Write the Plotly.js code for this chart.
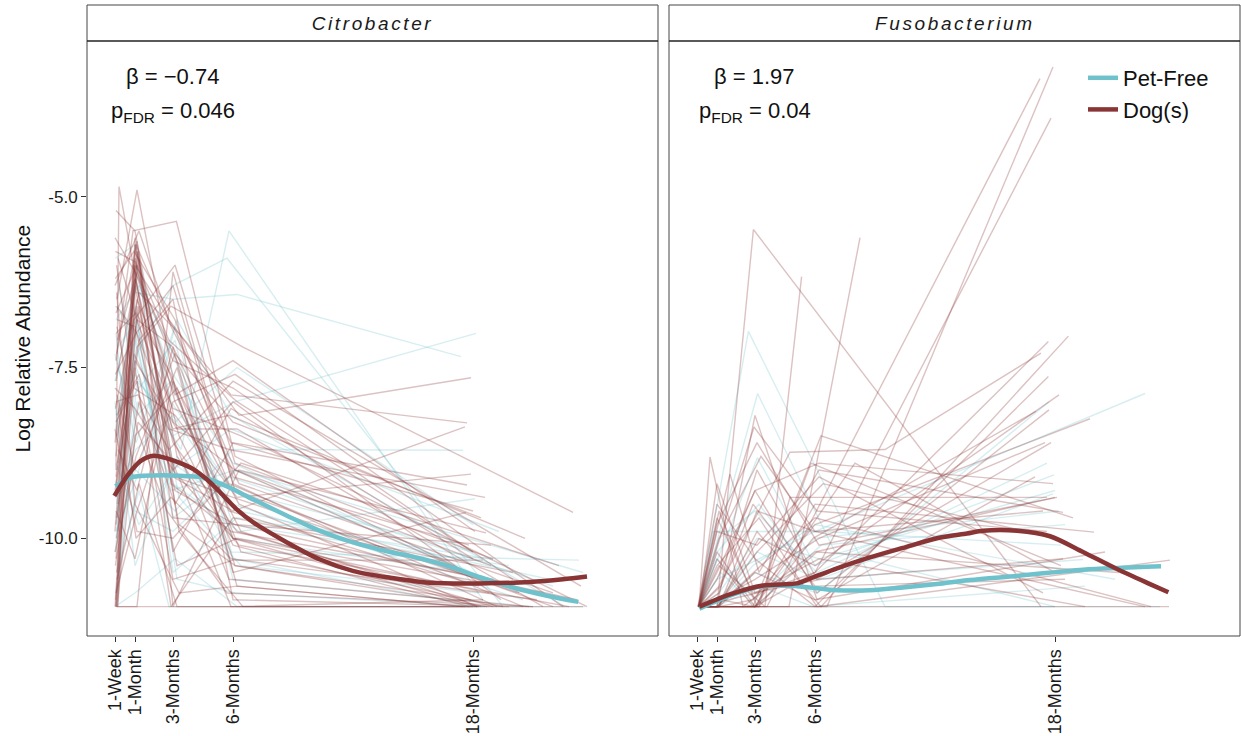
<!DOCTYPE html>
<html>
<head>
<meta charset="utf-8">
<script src="https://cdn.plot.ly/plotly-3.0.1.min.js"></script>
<style>
  html, body { margin: 0; padding: 0; background: #fff; }
  #chart { width: 1241px; height: 736px; }
</style>
</head>
<body>
<div id="chart"></div>
<script>
// ---------- axis ticks ----------
const xTickVals = [0.1, 1.1, 3, 6, 18];
const xTickText = ['1-Week', '1-Month', '3-Months', '6-Months', '18-Months'];
const yTickVals = [-5, -7.5, -10];
const yTickText = ['-5.0', '-7.5', '-10.0'];
const panelNames = ['Citrobacter', 'Fusobacterium'];
const groupNames = ['Pet-Free', 'Dog(s)'];
const betaText = ['\u03B2 = \u22120.74', '\u03B2 = 1.97'];
const pText = ['p<sub>FDR</sub> = 0.046', 'p<sub>FDR</sub> = 0.04'];

// ---------- smoothed group curves (months, log relative abundance) ----------
const citroPetFreeSmoothX = [0.12, 0.87, 2.03, 3.7, 4.5, 5.7, 7.0, 8.7, 10.35, 12.0, 13.7, 15.0, 16.7, 18.35, 20.0, 21.7, 23.27];
const citroPetFreeSmoothY = [-9.24, -9.11, -9.08, -9.09, -9.11, -9.24, -9.43, -9.67, -9.89, -10.06, -10.19, -10.27, -10.40, -10.57, -10.72, -10.84, -10.93];
const citroDogSmoothX = [0.07, 0.7, 1.37, 2.03, 2.7, 3.37, 4.03, 4.7, 5.37, 6.2, 7.03, 8.7, 10.35, 12.03, 13.7, 15.85, 18.35, 20.85, 22.5, 23.7];
const citroDogSmoothY = [-9.38, -9.09, -8.87, -8.79, -8.83, -8.90, -8.99, -9.14, -9.33, -9.58, -9.77, -10.06, -10.31, -10.48, -10.57, -10.65, -10.66, -10.64, -10.60, -10.56];
const fusoPetFreeSmoothX = [0.22, 1.75, 3.4, 5.08, 7.1, 8.75, 10.4, 12.1, 13.75, 16.1, 19.4, 23.3];
const fusoPetFreeSmoothY = [-11.03, -10.84, -10.70, -10.70, -10.76, -10.76, -10.72, -10.67, -10.61, -10.55, -10.46, -10.41];
const fusoDogSmoothX = [0.22, 1.75, 3.4, 5.08, 5.75, 7.1, 8.75, 10.4, 12.1, 13.6, 14.4, 16.1, 17.75, 19.4, 21.1, 22.75, 23.67];
const fusoDogSmoothY = [-11.0, -10.82, -10.69, -10.66, -10.59, -10.44, -10.28, -10.14, -10.0, -9.93, -9.89, -9.89, -9.97, -10.2, -10.45, -10.67, -10.79];

// ---------- individual subject trajectories: [month, value, month, value, ...] ----------
const citroDogSubjects = [
  [0.15,-9.0, 0.3,-4.85, 1.2,-6.3, 3.0,-8.6, 6.2,-9.9, 19.0,-11],
  [0.2,-6.5, 1.2,-4.9, 3.1,-7.8, 6.0,-10.0, 18.2,-11],
  [0.1,-5.6, 1.1,-6.1, 3.2,-7.4, 5.8,-9.2, 20.5,-11],
  [0.15,-7.4, 1.0,-5.5, 3.17,-5.36, 6.1,-8.8, 18.4,-10.6],
  [0.2,-10.5, 1.15,-5.7, 2.8,-6.8, 6.3,-8.2, 17.9,-7.65],
  [0.12,-8.1, 1.3,-6.4, 3.3,-7.0, 5.9,-7.9, 17.7,-8.31],
  [0.25,-11, 1.1,-5.6, 3.0,-9.1, 6.0,-9.6, 17.6,-8.37],
  [0.1,-9.3, 1.2,-7.2, 2.9,-6.6, 6.5,-7.2, 23.0,-9.62],
  [0.18,-6.0, 1.05,-7.8, 3.1,-8.2, 6.2,-9.4, 17.9,-9.06],
  [0.15,-11, 1.2,-6.6, 3.0,-10.2, 6.0,-8.6, 17.7,-9.22],
  [0.2,-7.9, 1.1,-9.0, 3.2,-7.5, 6.0,-10.5, 17.65,-9.62],
  [0.1,-8.6, 1.3,-5.9, 3.0,-11, 6.3,-9.0, 18.65,-9.92],
  [0.15,-11, 1.1,-11, 3.0,-11, 6.0,-11, 23.5,-11],
  [0.2,-6.9, 1.2,-8.4, 2.7,-9.6, 5.7,-10.8, 21.0,-11],
  [0.25,-9.9, 1.0,-6.0, 3.3,-8.0, 6.4,-10.2, 19.5,-11],
  [0.12,-7.6, 1.15,-7.0, 3.0,-6.3, 6.1,-9.3, 22.0,-11],
  [0.18,-10.0, 1.3,-8.0, 3.1,-9.5, 5.9,-8.1, 18.0,-10.3],
  [0.15,-5.2, 1.1,-5.5, 3.2,-8.8, 6.0,-10.0, 18.8,-10.8],
  [0.2,-8.5, 1.2,-6.8, 3.0,-7.2, 6.2,-10.7, 17.5,-11],
  [0.1,-11, 1.1,-7.5, 2.9,-11, 6.0,-9.7, 20.0,-10.5],
  [0.15,-9.1, 1.25,-5.8, 3.3,-9.9, 6.5,-11, 18.3,-11],
  [0.22,-7.1, 1.1,-6.2, 2.8,-8.4, 5.8,-8.7, 18.6,-9.4],
  [0.15,-10.8, 1.2,-9.6, 3.0,-8.0, 6.1,-7.6, 22.5,-11],
  [0.12,-6.2, 1.05,-5.8, 3.1,-6.8, 6.0,-9.1, 17.8,-10.1],
  [0.2,-8.2, 1.3,-7.6, 3.2,-10.4, 6.2,-10.0, 21.5,-10.8],
  [0.15,-9.6, 1.1,-10.3, 3.0,-7.7, 6.3,-9.5, 18.2,-11],
  [0.18,-7.3, 1.2,-5.65, 2.9,-9.2, 5.9,-9.9, 19.0,-10.6],
  [0.1,-10.2, 1.15,-8.8, 3.1,-7.3, 6.0,-8.3, 18.4,-9.7],
  [0.25,-5.9, 1.3,-6.9, 3.0,-8.1, 6.4,-8.5, 23.7,-11],
  [0.15,-8.8, 1.1,-6.3, 3.3,-9.8, 6.1,-10.4, 17.9,-10.9],
  [0.2,-11, 1.2,-11, 3.0,-6.1, 6.0,-9.2, 19.2,-11],
  [0.12,-9.4, 1.05,-7.3, 3.1,-8.6, 5.8,-10.6, 20.8,-11],
  [0.15,-6.7, 1.2,-6.0, 2.8,-7.1, 6.2,-8.0, 18.0,-10.2],
  [0.2,-10.6, 1.3,-9.2, 3.2,-11, 6.0,-11, 18.5,-10.9],
  [0.1,-7.8, 1.1,-8.1, 3.0,-9.0, 6.3,-10.1, 22.8,-11],
  [0.15,-9.2, 1.2,-6.5, 3.1,-7.9, 6.0,-7.4, 18.1,-9.9],
  [0.22,-8.0, 1.15,-10.0, 2.9,-9.4, 5.9,-10.3, 21.2,-10.9],
  [0.12,-10.9, 1.2,-5.8, 3.0,-8.3, 6.1,-9.0, 18.9,-10.4],
  [0.18,-6.4, 1.1,-9.5, 3.3,-10.8, 6.2,-10.7, 17.6,-11],
  [0.15,-9.8, 1.3,-7.1, 3.0,-6.5, 6.0,-10.9, 19.8,-11],
  [0.2,-11, 1.1,-8.5, 3.2,-7.8, 5.8,-9.6, 18.3,-10.7],
  [0.1,-8.4, 1.2,-9.9, 3.0,-10.0, 6.4,-8.9, 22.3,-10.4],
  [0.15,-7.0, 1.15,-6.7, 2.9,-7.6, 6.1,-10.4, 18.7,-11],
  [0.25,-9.5, 1.1,-5.7, 3.1,-9.1, 6.0,-9.4, 20.3,-10.8],
  [0.12,-10.4, 1.25,-8.3, 3.0,-8.9, 5.9,-11, 18.0,-11],
  [0.15,-8.3, 1.2,-7.7, 3.0,-10.6, 6.0,-10.32, 18.5,-10.32],
  [0.2,-6.8, 1.1,-6.9, 3.1,-9.3, 6.1,-9.8, 23.2,-10.9],
  [0.15,-7.7, 1.2,-6.1, 3.0,-7.4, 6.0,-7.8, 20.0,-10.6],
  [0.2,-9.7, 1.1,-7.4, 3.2,-8.4, 6.2,-8.4, 21.5,-11],
  [0.1,-6.3, 1.3,-5.5, 2.9,-6.9, 5.9,-8.6, 18.0,-9.6],
  [0.15,-10.3, 1.05,-6.8, 3.1,-6.0, 6.1,-8.9, 19.0,-10.3],
  [0.25,-8.7, 1.2,-9.3, 3.0,-7.2, 6.3,-9.2, 22.0,-10.8],
  [0.12,-5.8, 1.1,-5.95, 3.3,-8.5, 6.0,-10.1, 17.8,-11],
  [0.2,-11, 1.15,-6.2, 3.0,-9.7, 6.2,-9.8, 18.9,-10.1],
  [0.15,-8.0, 1.25,-7.9, 2.8,-8.7, 6.0,-7.7, 23.4,-10.7],
  [0.1,-9.9, 1.1,-5.9, 3.1,-8.0, 6.4,-9.9, 18.4,-11],
  [0.18,-6.6, 1.2,-7.0, 3.0,-8.4, 5.8,-8.2, 20.6,-10.0],
  [0.15,-11, 1.1,-6.0, 3.2,-7.0, 6.1,-9.0, 17.7,-10.5],
  [0.22,-8.9, 1.3,-6.6, 3.0,-9.0, 6.0,-8.0, 19.4,-10.9]
];
const citroPetFreeSubjects = [
  [0.15,-8.2, 1.1,-7.6, 3.4,-8.7, 5.8,-5.5, 18.5,-10.9],
  [0.2,-9.0, 1.2,-7.3, 3.0,-6.3, 5.7,-5.9, 19.5,-11],
  [0.1,-7.7, 1.1,-6.4, 3.0,-6.5, 6.2,-6.43, 17.4,-7.34],
  [0.15,-10.0, 1.2,-6.9, 3.0,-8.5, 6.1,-8.0, 18.15,-7.0],
  [0.12,-5.9, 1.1,-5.7, 2.9,-8.0, 6.0,-9.3, 18.0,-10.2],
  [0.2,-9.4, 1.15,-9.0, 3.1,-9.6, 6.0,-8.7, 17.5,-8.71],
  [0.15,-11, 1.2,-8.0, 3.0,-9.2, 6.3,-9.9, 18.1,-9.42],
  [0.1,-8.0, 1.1,-10.4, 3.2,-8.8, 5.9,-10.2, 23.3,-10.32],
  [0.25,-7.2, 1.2,-6.8, 3.0,-10.5, 6.2,-9.7, 19.0,-10.31],
  [0.15,-9.7, 1.05,-7.9, 3.1,-7.1, 6.0,-10.6, 21.0,-11],
  [0.18,-10.5, 1.3,-9.3, 2.8,-11, 6.1,-11, 18.6,-11],
  [0.12,-6.6, 1.1,-7.0, 3.0,-9.7, 5.8,-9.1, 22.0,-10.7],
  [0.2,-8.6, 1.2,-6.0, 3.3,-9.4, 6.4,-10.4, 18.3,-10.8],
  [0.15,-9.3, 1.15,-8.7, 3.0,-8.2, 6.0,-9.5, 20.5,-10.9],
  [0.1,-11, 1.1,-10.8, 3.1,-10.3, 6.2,-11, 23.6,-11],
  [0.22,-7.5, 1.2,-8.2, 2.9,-7.7, 6.0,-10.0, 17.8,-10.5],
  [0.15,-8.9, 1.3,-9.8, 3.0,-9.0, 5.9,-8.4, 19.3,-9.9],
  [0.12,-10.2, 1.1,-6.6, 3.2,-10.6, 6.1,-10.8, 18.8,-11],
  [0.2,-6.2, 1.15,-7.5, 3.0,-8.9, 6.3,-9.6, 21.8,-10.6],
  [0.15,-9.9, 1.2,-9.1, 3.1,-6.9, 6.0,-10.3, 18.2,-11],
  [0.15,-7.0, 1.1,-9.6, 3.0,-9.9, 6.2,-9.0, 23.5,-10.5],
  [0.15,-8.4, 1.1,-6.2, 3.0,-7.6, 6.0,-8.9, 20.2,-10.8],
  [0.2,-10.8, 1.2,-7.7, 3.1,-8.3, 6.2,-7.5, 18.0,-9.8],
  [0.1,-7.3, 1.15,-8.6, 3.2,-6.8, 5.9,-8.2, 22.6,-11],
  [0.18,-9.5, 1.1,-7.1, 2.9,-9.3, 6.1,-9.0, 18.6,-10.6],
  [0.15,-6.8, 1.3,-6.3, 3.0,-7.3, 6.0,-9.8, 19.8,-10.4]
];
const fusoDogSubjects = [
  [0.2,-11, 1.1,-11, 2.92,-5.48, 17.3,-11],
  [0.2,-11, 1.2,-11, 3.6,-11, 17.25,-3.27],
  [0.15,-11, 3.0,-11, 6.6,-11, 17.9,-3.1],
  [0.2,-11, 3.1,-10.8, 6.0,-10.5, 17.8,-3.85],
  [0.15,-11, 1.1,-11, 4.7,-11, 8.25,-5.6],
  [0.2,-11, 1.2,-10.4, 3.5,-11, 5.33,-6.17],
  [0.2,-11, 0.75,-8.81, 2.4,-11, 6.0,-10.2, 18.0,-9.4],
  [0.2,-11, 2.95,-8.37, 6.1,-9.6, 17.6,-9.9],
  [0.2,-11, 1.75,-9.06, 3.2,-10.5, 6.2,-9.0, 18.4,-9.62],
  [0.2,-11, 1.2,-10.7, 4.75,-8.74, 9.5,-8.7, 17.3,-7.29],
  [0.2,-11, 3.2,-11, 4.75,-9.4, 17.6,-9.4],
  [0.2,-11, 1.1,-10.2, 3.0,-11, 6.0,-10.5, 17.67,-7.12],
  [0.2,-11, 1.2,-11, 3.1,-9.9, 6.3,-11, 18.67,-7.04],
  [0.15,-11, 1.1,-9.5, 3.0,-10.3, 6.0,-11, 17.67,-7.63],
  [0.2,-11, 1.3,-11, 3.2,-11, 5.9,-10.0, 17.05,-8.14],
  [0.2,-11, 1.1,-10.6, 3.0,-9.3, 6.1,-10.8, 17.7,-8.12],
  [0.2,-11, 1.2,-11, 2.9,-10.9, 6.0,-9.8, 19.75,-8.25],
  [0.15,-11, 1.1,-9.8, 3.1,-8.6, 6.2,-10.1, 18.1,-9.40],
  [0.2,-11, 1.2,-11, 3.0,-11, 6.0,-9.5, 19.95,-9.91],
  [0.2,-11, 1.1,-10.4, 3.2,-9.7, 6.1,-11, 23.75,-10.32],
  [0.2,-11, 1.15,-11, 3.0,-11, 6.0,-11, 23.7,-11],
  [0.2,-11, 1.1,-9.2, 3.0,-10.8, 6.2,-10.3, 19.5,-11],
  [0.15,-11, 1.2,-10.0, 3.3,-8.8, 6.0,-9.9, 22.5,-11],
  [0.2,-11, 1.1,-11, 3.1,-10.2, 6.4,-9.2, 18.0,-10.0],
  [0.2,-11, 1.3,-10.7, 2.9,-9.5, 6.0,-10.7, 18.5,-10.6],
  [0.2,-11, 1.1,-11, 3.0,-8.2, 6.1,-10.9, 17.0,-9.1],
  [0.2,-11, 1.2,-9.6, 3.1,-11, 5.8,-8.9, 18.3,-10.4],
  [0.2,-11, 1.1,-10.9, 3.0,-10.6, 6.2,-10.0, 17.5,-8.6],
  [0.2,-11, 1.15,-11, 3.2,-10.0, 6.0,-10.4, 18.2,-7.9],
  [0.2,-11, 1.1,-10.3, 2.9,-11, 6.3,-8.5, 18.9,-9.7],
  [0.2,-11, 1.2,-11, 3.0,-10.5, 6.0,-10.9, 20.5,-10.2],
  [0.2,-11, 1.1,-9.9, 3.1,-10.1, 6.2,-9.1, 17.4,-10.8],
  [0.2,-11, 1.3,-11, 3.0,-11, 8.0,-8.9, 18.0,-10.5],
  [0.2,-11, 1.2,-10.8, 3.1,-9.0, 6.1,-10.6, 17.8,-8.6],
  [0.2,-11, 1.1,-11, 3.3,-10.4, 6.0,-9.7, 22.8,-11],
  [0.2,-11, 1.1,-10.5, 3.0,-9.3, 6.2,-8.9, 17.9,-9.2],
  [0.2,-11, 1.2,-11, 3.1,-9.6, 6.0,-9.9, 17.4,-9.6],
  [0.2,-11, 1.1,-9.7, 2.9,-10.8, 6.3,-10.6, 18.4,-10.3],
  [0.2,-11, 1.3,-10.9, 3.0,-11, 6.1,-10.2, 21.2,-10.5]
];
const fusoPetFreeSubjects = [
  [0.2,-11, 2.67,-6.97, 9.5,-11, 18.0,-11],
  [0.2,-11, 3.13,-7.88, 7.0,-10.2, 18.0,-11],
  [0.2,-11, 3.12,-8.82, 6.0,-10.4, 17.95,-9.07],
  [0.2,-11, 1.1,-10.6, 6.0,-9.9, 22.5,-7.88],
  [0.2,-11, 1.2,-11, 3.0,-10.5, 6.1,-10.8, 17.7,-8.0],
  [0.2,-11, 1.1,-10.2, 3.2,-9.5, 6.0,-10.6, 19.4,-10.31],
  [0.2,-11, 1.15,-11, 3.0,-11, 6.0,-11, 23.25,-11],
  [0.2,-11, 0.9,-9.9, 6.4,-9.9, 18.3,-10.1],
  [0.2,-11, 1.2,-10.8, 3.1,-10.0, 6.2,-10.3, 18.0,-9.3],
  [0.2,-11, 1.1,-11, 2.9,-10.4, 6.0,-9.8, 21.0,-10.6],
  [0.2,-11, 1.3,-10.5, 3.0,-11, 6.3,-10.1, 18.5,-9.8],
  [0.2,-11, 1.1,-11, 3.2,-10.7, 5.9,-11, 19.5,-10.7],
  [0.2,-11, 1.2,-10.0, 3.0,-9.6, 6.1,-10.5, 17.6,-8.9],
  [0.2,-11, 1.1,-10.3, 3.0,-10.9, 6.0,-10.0, 18.2,-9.6],
  [0.2,-11, 1.2,-10.9, 3.1,-10.2, 6.2,-10.6, 17.9,-9.35]
];

// ---------- styling ----------
const TEAL = '#6FC2CC';
const RED = '#8A3535';
const TEAL_FAINT = 'rgba(111,194,204,0.28)';
const RED_FAINT = 'rgba(138,53,53,0.3)';
const FONT = 'Liberation Sans, Arial, Helvetica, sans-serif';

const traces = [];
function addSubjects(list, color, xa, ya) {
  list.forEach(function (s) {
    const xs = [], ys = [];
    for (let i = 0; i < s.length; i += 2) { xs.push(s[i]); ys.push(s[i + 1]); }
    traces.push({
      type: 'scatter', mode: 'lines', x: xs, y: ys, xaxis: xa, yaxis: ya,
      line: { color: color, width: 1.4 }, hoverinfo: 'skip', showlegend: false
    });
  });
}
addSubjects(citroPetFreeSubjects, TEAL_FAINT, 'x', 'y');
addSubjects(citroDogSubjects, RED_FAINT, 'x', 'y');
addSubjects(fusoPetFreeSubjects, TEAL_FAINT, 'x2', 'y2');
addSubjects(fusoDogSubjects, RED_FAINT, 'x2', 'y2');

function smooth(x, y, color, xa, ya, name, show) {
  traces.push({
    type: 'scatter', mode: 'lines', x: x, y: y, xaxis: xa, yaxis: ya,
    line: { color: color, width: 4.5, shape: 'spline', smoothing: 0.8 },
    name: name, legendgroup: name, showlegend: show, hoverinfo: 'skip'
  });
}
smooth(citroPetFreeSmoothX, citroPetFreeSmoothY, TEAL, 'x', 'y', groupNames[0], true);
smooth(citroDogSmoothX, citroDogSmoothY, RED, 'x', 'y', groupNames[1], true);
smooth(fusoPetFreeSmoothX, fusoPetFreeSmoothY, TEAL, 'x2', 'y2', groupNames[0], false);
smooth(fusoDogSmoothX, fusoDogSmoothY, RED, 'x2', 'y2', groupNames[1], false);

// ---------- layout geometry ----------
const W = 1241, H = 736;
const mL = 87, mR = 1, mT = 41, mB = 100;
const plotW = W - mL - mR, plotH = H - mT - mB;
const d1 = [0, 571 / plotW];
const d2 = [(669 - mL) / plotW, 1];
const stripTop = 1 + 36 / plotH;
const xRange = [-1.3, 27.25];
const yRange = [-11.43, -2.72];

const xAxisBase = {
  range: xRange, tickvals: xTickVals, ticktext: xTickText, tickangle: -90,
  ticks: 'outside', ticklen: 5, tickwidth: 1, tickcolor: '#333',
  showgrid: false, zeroline: false, showline: false,
  tickfont: { family: FONT, size: 18, color: '#1a1a1a' }, fixedrange: true
};

const shapes = [];
[d1, d2].forEach(function (d) {
  shapes.push({ type: 'rect', xref: 'paper', yref: 'paper', x0: d[0], x1: d[1], y0: 0, y1: stripTop,
    line: { color: '#444', width: 1 }, fillcolor: 'rgba(0,0,0,0)', layer: 'above' });
  shapes.push({ type: 'line', xref: 'paper', yref: 'paper', x0: d[0], x1: d[1], y0: 1, y1: 1,
    line: { color: '#222', width: 1.5 }, layer: 'above' });
});

const annotations = [];
[d1, d2].forEach(function (d, i) {
  const cx = (d[0] + d[1]) / 2;
  annotations.push({ xref: 'paper', yref: 'paper', x: cx, y: (1 + stripTop) / 2, xanchor: 'center', yanchor: 'middle',
    text: '<i>' + panelNames[i] + '</i>', showarrow: false, font: { family: FONT, size: 19, color: '#1a1a1a' } });
  const bx = d[0] + (172.5 - mL) / plotW;
  annotations.push({ xref: 'paper', yref: 'paper', x: bx, y: (636 - 76) / plotH, xanchor: 'center', yanchor: 'middle',
    text: betaText[i], showarrow: false, font: { family: FONT, size: 22, color: '#111' } });
  annotations.push({ xref: 'paper', yref: 'paper', x: bx, y: (636 - 112) / plotH, xanchor: 'center', yanchor: 'middle',
    text: pText[i], showarrow: false, font: { family: FONT, size: 22, color: '#111' } });
});
annotations.push({ xref: 'paper', yref: 'paper', x: (22 - mL) / plotW, y: 0.5, xanchor: 'center', yanchor: 'middle',
  text: 'Log Relative Abundance', textangle: -90, showarrow: false, font: { family: FONT, size: 21, color: '#111' } });

const layout = {
  width: W, height: H,
  margin: { l: mL, r: mR, t: mT, b: mB, pad: 0 },
  paper_bgcolor: '#fff', plot_bgcolor: '#fff',
  font: { family: FONT, color: '#111' },
  xaxis: Object.assign({}, xAxisBase, { domain: d1, anchor: 'y' }),
  xaxis2: Object.assign({}, xAxisBase, { domain: d2, anchor: 'y2' }),
  yaxis: {
    domain: [0, 1], range: yRange, anchor: 'x', tickvals: yTickVals, ticktext: yTickText,
    ticks: 'outside', ticklen: 5, tickwidth: 1, tickcolor: '#333',
    showgrid: false, zeroline: false, showline: false,
    tickfont: { family: FONT, size: 17, color: '#1a1a1a' }, fixedrange: true
  },
  yaxis2: {
    domain: [0, 1], range: yRange, anchor: 'x2', showticklabels: false, ticks: '',
    showgrid: false, zeroline: false, showline: false, fixedrange: true
  },
  showlegend: true,
  legend: {
    x: (1083 - mL) / plotW, y: (636 - 57) / plotH, xanchor: 'left', yanchor: 'top',
    bgcolor: 'rgba(0,0,0,0)', borderwidth: 0, font: { family: FONT, size: 22, color: '#111' },
    itemwidth: 30, tracegroupgap: 0
  },
  shapes: shapes,
  annotations: annotations
};

Plotly.newPlot('chart', traces, layout, { displayModeBar: false, staticPlot: true }).then(function () {
  document.querySelectorAll('.annotation-text').forEach(function (t) {
    const s = t.textContent;
    if (s === panelNames[0] || s === panelNames[1]) { t.style.letterSpacing = '2.6px'; }
  });
});
</script>
</body>
</html>
